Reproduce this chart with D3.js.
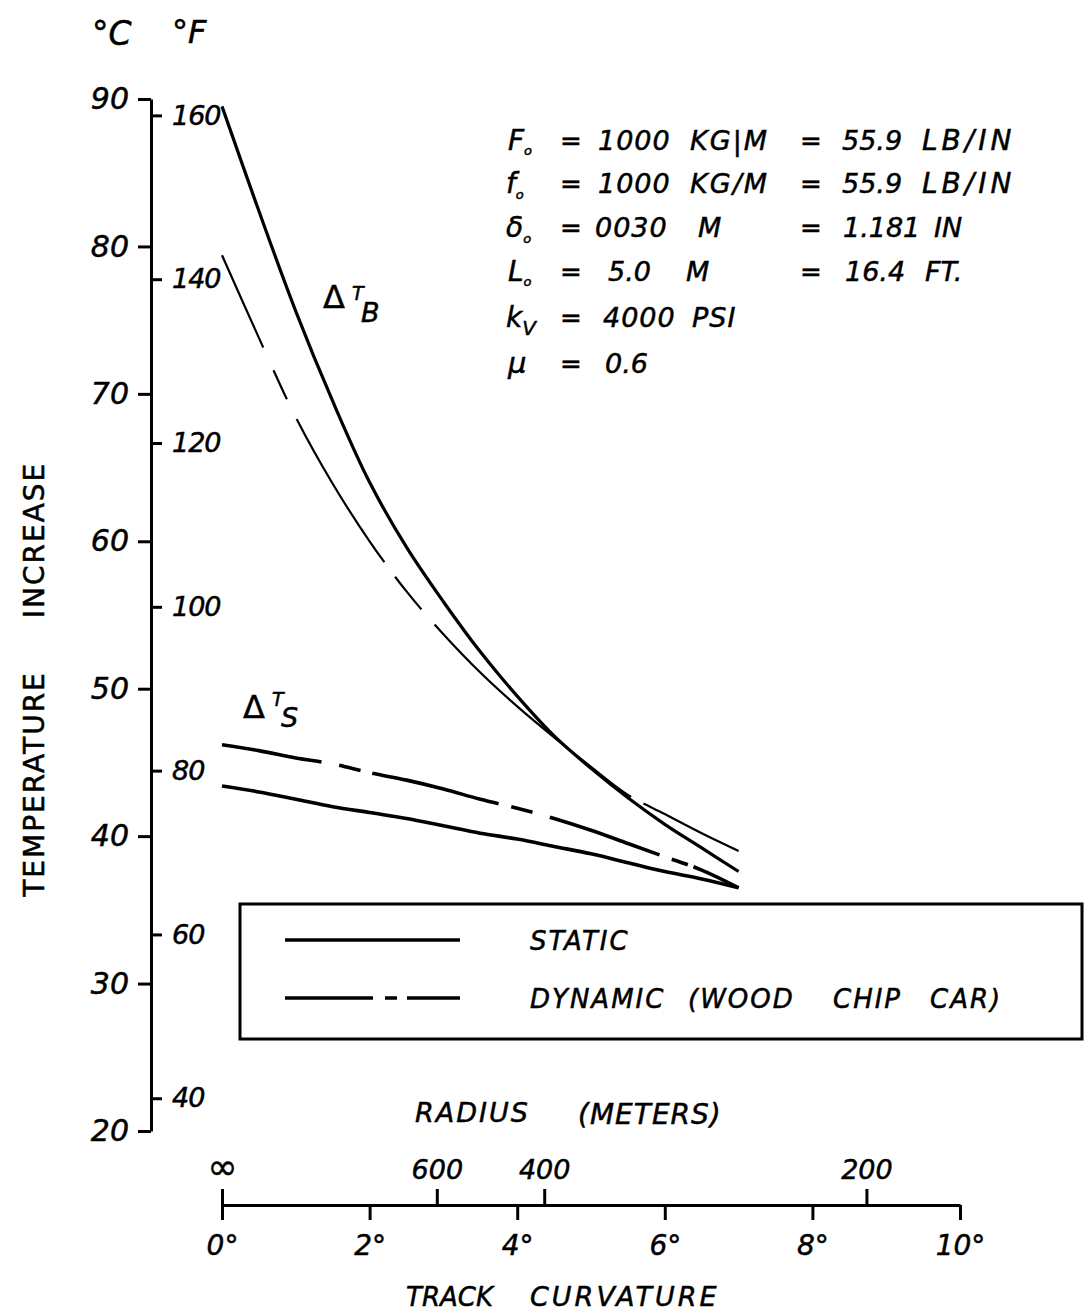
<!DOCTYPE html>
<html><head><meta charset="utf-8">
<script src="https://cdn.jsdelivr.net/npm/d3@7"></script>
<style>
body{margin:0;background:#fff;overflow:hidden;}
svg{display:block;}
text{font-family:"DejaVu Sans",sans-serif;font-style:italic;fill:#000;stroke:#000;stroke-width:0.5;}
</style></head><body>
<svg id="chart" width="1088" height="1316"></svg>
<script>
// ---- data ----
const curvature = [0,0.5,1,1.5,2,2.5,3,3.5,4,4.5,5,5.5,6,6.5,7];
const staticB  = [89.5,82.4,75.6,69.5,64.0,59.6,55.9,52.5,49.5,46.8,44.6,42.6,40.8,39.2,37.6];
const dynamicB = [79.4,73.8,68.4,63.9,60.0,56.6,53.7,51.1,48.8,46.7,44.7,42.8,41.5,40.2,39.0];
const staticS  = [43.4,43.0,42.5,42.0,41.6,41.2,40.7,40.2,39.8,39.3,38.8,38.2,37.6,37.1,36.5];
const dynamicS = [46.2,45.8,45.3,44.9,44.3,43.8,43.2,42.5,41.9,41.2,40.4,39.5,38.6,37.7,36.5];
const celsiusTicks = [20,30,40,50,60,70,80,90];
const fahrenheitTicks = [40,60,80,100,120,140,160];
const curvatureTicks = [0,2,4,6,8,10];
const radiusTicks = [Infinity,600,400,200];
const radiusLabels = ["∞","600","400","200"];
const legendItems = ["STATIC","DYNAMIC (WOOD CHIP CAR)"];

// ---- scales ----
const svg = d3.select("#chart");
const x = d3.scaleLinear().domain([0,10]).range([222,960]);
const yC = d3.scaleLinear().domain([20,90]).range([1131,99]);
const yF = d3.scaleLinear().domain([20*1.8,90*1.8]).range([1131,99]);
const radiusToDeg = r => (r===Infinity?0:1746.4/r);

const AXW = 3;
const styleTicks = (g,size)=>g.selectAll("text").attr("font-size",size)
  .style("font-family",'"DejaVu Sans"').style("font-style","italic")
  .attr("stroke","#000").attr("stroke-width",0.5);

// °C axis
const gC = svg.append("g").attr("transform","translate(151,0)")
  .call(d3.axisLeft(yC).tickValues(celsiusTicks).tickSize(13).tickSizeOuter(0).tickPadding(9));
styleTicks(gC,30);
// °F axis
const gF = svg.append("g").attr("transform","translate(151,0)")
  .call(d3.axisRight(yF).tickValues(fahrenheitTicks).tickSize(11).tickSizeOuter(0).tickPadding(10));
gF.select(".domain").remove();
styleTicks(gF,27); gF.selectAll("text").attr("letter-spacing",-1);

// curvature axis
const gX = svg.append("g").attr("transform","translate(0,1205)")
  .call(d3.axisBottom(x).tickValues(curvatureTicks).tickSize(15).tickSizeOuter(0).tickPadding(15).tickFormat(d=>d+"°"));
styleTicks(gX,28);
// radius axis
const gR = svg.append("g").attr("transform","translate(0,1205)")
  .call(d3.axisTop(x).tickValues(radiusTicks.map(radiusToDeg)).tickSize(16).tickSizeOuter(0).tickPadding(10)
    .tickFormat((d,i)=>radiusLabels[i]));
gR.select(".domain").remove();
styleTicks(gR,27); gR.selectAll("text").filter((d,i)=>i===0).attr("font-size",36).style("font-style","normal");

svg.selectAll(".domain, .tick line").attr("stroke-width",AXW).attr("stroke","#000");
svg.selectAll(".tick text").attr("fill","#000");

// ---- curves ----
const line = vals => d3.line().curve(d3.curveCatmullRom.alpha(0.5))
  .x((d,i)=>x(curvature[i])).y(d=>yC(d))(vals);
const series = [
  {v:staticB, w:3.2, dash:null},
  {v:dynamicB, w:2.2, dash:"101,25,32,22,168,18,42,20,262,14,300"},
  {v:staticS, w:3.6, dash:null},
  {v:dynamicS, w:3.6, dash:"101,18,22,12,130,13,22,18,116,13,17,6,80"}
];
svg.append("g").selectAll("path").data(series).join("path")
  .attr("d",s=>line(s.v)).attr("fill","none").attr("stroke","#000")
  .attr("stroke-width",s=>s.w).attr("stroke-dasharray",s=>s.dash);

// ---- text helper ----
function t(xp,yp,str,size,opts={}){
  const el = svg.append("text").attr("x",xp).attr("y",yp).attr("font-size",size).text(str);
  if(opts.ls!==undefined) el.attr("letter-spacing",opts.ls);
  if(opts.anchor) el.attr("text-anchor",opts.anchor);
  if(opts.upright) el.style("font-style","normal");
  return el;
}
function sym(xp,yp,main,sub,size,subSize,dy){
  const el = svg.append("text").attr("x",xp).attr("y",yp).attr("font-size",size);
  el.append("tspan").text(main);
  el.append("tspan").attr("font-size",subSize).attr("dy",dy).text(sub);
  return el;
}

// unit headers
t(92,45,"°C",33);
t(172,43,"°F",32);

// y title
svg.append("text").attr("transform","translate(44,540) rotate(-90)").attr("text-anchor","middle")
  .attr("font-size",28).attr("letter-spacing",2).style("font-style","normal").text("INCREASE");
svg.append("text").attr("transform","translate(44,784) rotate(-90)").attr("text-anchor","middle")
  .attr("font-size",28).attr("letter-spacing",2).style("font-style","normal").text("TEMPERATURE");

// parameter block
const rows = [150,193,237,281,327,373];
sym(508,rows[0],"F","o",28,13,5);
sym(506,rows[1],"f","o",28,13,6);
sym(506,rows[2],"δ","o",28,13,6);
sym(508,rows[3],"L","o",28,13,5);
sym(506,rows[4],"k","V",28,20,8);
t(508,rows[5],"μ",29);
[0,1,2,3,4,5].forEach(i=>t(560,rows[i],"=",26));
t(598,rows[0],"1000",27,{ls:1});
t(598,rows[1],"1000",27,{ls:1});
t(595,rows[2],"0030",27,{ls:1});
t(608,rows[3],"5.0",27);
t(603,rows[4],"4000",27,{ls:1});
t(605,rows[5],"0.6",27);
t(690,rows[0],"KG|M",27,{ls:2});
t(690,rows[1],"KG/M",27,{ls:2});
t(698,rows[2],"M",27);
t(686,rows[3],"M",27);
t(692,rows[4],"PSI",27,{ls:1});
[0,1,2,3].forEach(i=>t(800,rows[i],"=",26));
t(842,rows[0],"55.9",27);
t(842,rows[1],"55.9",27);
t(843,rows[2],"1.181",27);
t(845,rows[3],"16.4",27);
t(922,rows[0],"LB/IN",28,{ls:4});
t(922,rows[1],"LB/IN",28,{ls:4});
t(934,rows[2],"IN",27);
t(925,rows[3],"FT.",27);

// curve labels
t(323,308,"Δ",32,{upright:true});
t(352,300,"T",19);
t(361,322,"B",27);
t(243,718,"Δ",32,{upright:true});
t(272,706,"T",19);
t(281,727,"S",27);

// ---- legend ----
const lg = svg.append("g");
lg.append("rect").attr("x",240).attr("y",904).attr("width",842).attr("height",135)
  .attr("fill","none").attr("stroke","#000").attr("stroke-width",AXW);
const legendDash = [null,"88,12,12,10,60"];
const legendY = [940,998];
const legendWordX = [[530],[530,688,833,930]];
legendItems.forEach((name,i)=>{
  lg.append("line").attr("x1",285).attr("x2",460).attr("y1",legendY[i]).attr("y2",legendY[i])
    .attr("stroke","#000").attr("stroke-width",3.4).attr("stroke-dasharray",legendDash[i]);
  name.split(" ").forEach((w,j)=>t(legendWordX[i][j],legendY[i]+10,w,26,{ls:2}));
});

// x titles
t(415,1122,"RADIUS",27,{ls:2});
t(578,1124,"(METERS)",28,{ls:1});
t(406,1306,"TRACK",26,{ls:0});
t(530,1306,"CURVATURE",27,{ls:3});
</script>
</body></html>
